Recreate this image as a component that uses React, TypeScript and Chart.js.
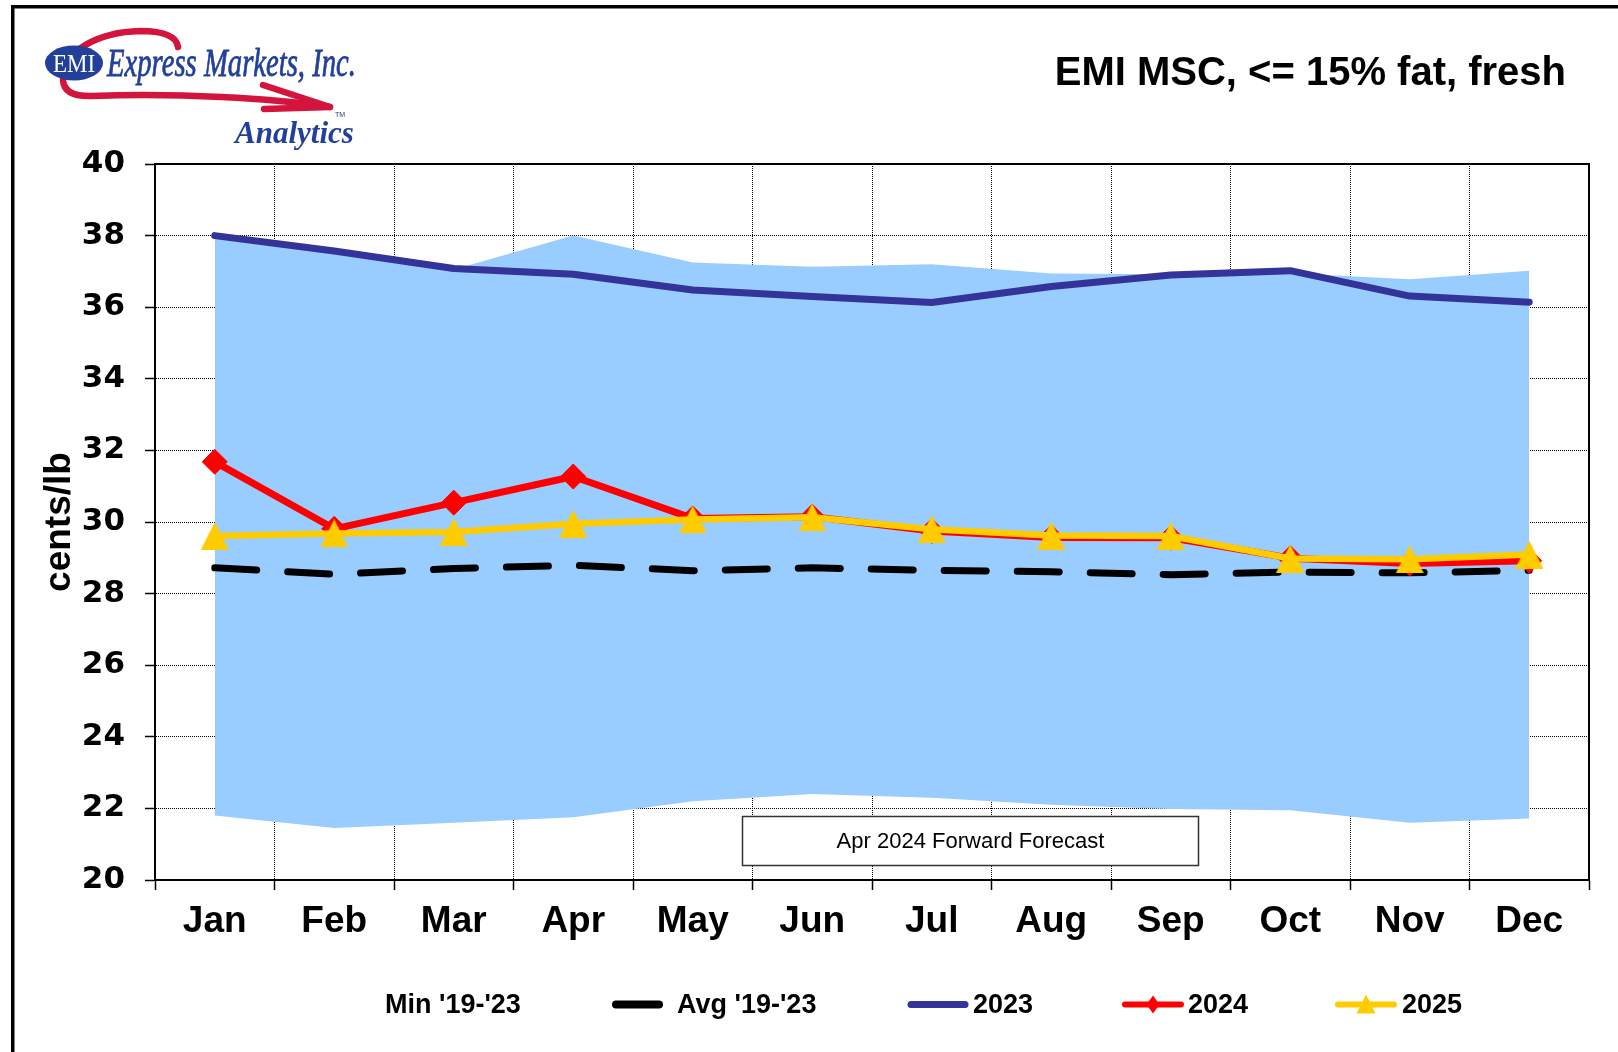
import React, { useEffect, useRef } from 'react';
import { Chart, registerables } from 'chart.js';

Chart.register(...registerables);

// ---------------- data ----------------
const months = ['Jan', 'Feb', 'Mar', 'Apr', 'May', 'Jun', 'Jul', 'Aug', 'Sep', 'Oct', 'Nov', 'Dec'];
const min1923 = [21.8, 21.45, 21.6, 21.75, 22.2, 22.4, 22.3, 22.1, 21.98, 21.95, 21.6, 21.72];
const max1923 = [38.0, 37.6, 37.05, 38.0, 37.25, 37.13, 37.2, 36.94, 36.92, 36.95, 36.78, 37.02];
const avg1923 = [28.72, 28.54, 28.7, 28.79, 28.64, 28.72, 28.65, 28.61, 28.53, 28.6, 28.58, 28.65];
const y2023 = [38.0, 37.57, 37.08, 36.92, 36.48, 36.3, 36.13, 36.58, 36.9, 37.02, 36.31, 36.14];
const y2024 = [31.68, 29.81, 30.54, 31.27, 30.1, 30.15, 29.75, 29.57, 29.56, 28.99, 28.84, 28.92];
const y2025 = [29.61, 29.68, 29.72, 29.95, 30.07, 30.13, 29.8, 29.62, 29.61, 28.98, 28.96, 29.09];
const seriesNames = ["Min '19-'23", "Max '19-'23", "Avg '19-'23", '2023', '2024', '2025'];
const yMin = 20;
const yMax = 40;
const yStep = 2;
const chartTitle = 'EMI MSC, <= 15% fat, fresh';
const yAxisTitle = 'cents/lb';
const forecastNote = 'Apr 2024 Forward Forecast';
const logoName = 'Express Markets, Inc.';
const logoBadge = 'EMI';
const logoSub = 'Analytics';

// ---------------- styles ----------------
const BAND = '#99CCFF';
const NAVY = '#333399';
const RED = '#FF0000';
const YELLOW = '#FFCC00';
const LOGO_BLUE = '#22409A';
const LOGO_RED = '#D3143D';
const SANS = '"Liberation Sans", Arial, sans-serif';
const SERIF = '"Liberation Serif", "Times New Roman", serif';

export default function App() {
  const ref = useRef<HTMLCanvasElement>(null);

  useEffect(() => {
    document.body.style.margin = '0';
    const canvas = ref.current as HTMLCanvasElement;

    const tri = document.createElement('canvas');
    tri.width = 28;
    tri.height = 28;
    const tc = tri.getContext('2d') as CanvasRenderingContext2D;
    tc.fillStyle = YELLOW;
    tc.beginPath();
    tc.moveTo(14, 0);
    tc.lineTo(28, 28);
    tc.lineTo(0, 28);
    tc.closePath();
    tc.fill();

    const legendLayout = [
      { name: seriesNames[0], kind: 'none', color: '#fff', x0: 0, x1: 0, tx: 385 },
      { name: seriesNames[2], kind: 'line', color: '#000', x0: 616, x1: 659, tx: 677, w: 8 },
      { name: seriesNames[3], kind: 'line', color: NAVY, x0: 911, x1: 965, tx: 973, w: 7 },
      { name: seriesNames[4], kind: 'diamond', color: RED, x0: 1125, x1: 1181, tx: 1188, w: 6 },
      { name: seriesNames[5], kind: 'triangle', color: YELLOW, x0: 1338, x1: 1394, tx: 1402, w: 6 },
    ];

    const decor = {
      id: 'decor',
      beforeDraw(chart: any) {
        const ctx = chart.ctx as CanvasRenderingContext2D;
        ctx.save();
        ctx.fillStyle = '#fff';
        ctx.fillRect(0, 0, chart.width, chart.height);
        ctx.restore();
      },
      afterDatasetsDraw(chart: any) {
        const ctx = chart.ctx as CanvasRenderingContext2D;
        const xs = chart.scales.x;
        const ys = chart.scales.y;
        const a = chart.chartArea;
        // forecast note box
        const bx0 = Math.round(xs.getPixelForValue(4.41)) + 0.5;
        const bx1 = Math.round(xs.getPixelForValue(8.23)) + 0.5;
        const by0 = Math.round(ys.getPixelForValue(21.78)) + 0.5;
        const by1 = Math.round(ys.getPixelForValue(20.42)) + 0.5;
        ctx.save();
        ctx.fillStyle = '#fff';
        ctx.fillRect(bx0, by0, bx1 - bx0, by1 - by0);
        ctx.strokeStyle = '#333';
        ctx.lineWidth = 1.5;
        ctx.strokeRect(bx0, by0, bx1 - bx0, by1 - by0);
        ctx.fillStyle = '#000';
        ctx.font = `22px ${SANS}`;
        ctx.textAlign = 'center';
        ctx.textBaseline = 'middle';
        ctx.fillText(forecastNote, (bx0 + bx1) / 2, (by0 + by1) / 2 + 1);
        // top and right plot border
        ctx.strokeStyle = '#000';
        ctx.lineWidth = 2;
        ctx.beginPath();
        ctx.moveTo(a.left, a.top);
        ctx.lineTo(a.right, a.top);
        ctx.lineTo(a.right, a.bottom);
        ctx.stroke();
        ctx.restore();
      },
      afterDraw(chart: any) {
        const ctx = chart.ctx as CanvasRenderingContext2D;
        ctx.save();
        // outer frame (top and left edges visible)
        ctx.fillStyle = '#000';
        ctx.fillRect(11, 5, chart.width - 11, 3.5);
        ctx.fillRect(11, 5, 3.5, chart.height - 5);

        // ---- logo ----
        ctx.strokeStyle = LOGO_RED;
        ctx.lineWidth = 6.5;
        ctx.lineCap = 'round';
        ctx.lineJoin = 'round';
        ctx.beginPath();
        ctx.moveTo(178, 47);
        ctx.quadraticCurveTo(176, 31, 140, 31);
        ctx.bezierCurveTo(100, 32, 62, 50, 63, 80);
        ctx.quadraticCurveTo(64, 97, 92, 96);
        ctx.bezierCurveTo(180, 93, 270, 98, 330, 107);
        ctx.stroke();
        ctx.beginPath();
        ctx.moveTo(263, 85);
        ctx.lineTo(330, 107);
        ctx.lineTo(264, 109);
        ctx.stroke();
        ctx.fillStyle = LOGO_BLUE;
        ctx.beginPath();
        ctx.ellipse(74, 63, 29, 17.5, 0, 0, Math.PI * 2);
        ctx.fill();
        ctx.fillStyle = '#fff';
        ctx.font = `25px ${SERIF}`;
        ctx.textAlign = 'center';
        ctx.textBaseline = 'alphabetic';
        ctx.save();
        ctx.translate(74, 72);
        ctx.scale(0.92, 1);
        ctx.fillText(logoBadge, 0, 0);
        ctx.restore();
        ctx.fillStyle = LOGO_BLUE;
        ctx.strokeStyle = LOGO_BLUE;
        ctx.lineWidth = 0.8;
        ctx.font = `italic 41px ${SERIF}`;
        ctx.textAlign = 'left';
        const nw = ctx.measureText(logoName).width;
        ctx.save();
        ctx.translate(107, 76);
        ctx.scale(249 / nw, 1);
        ctx.fillText(logoName, 0, 0);
        ctx.strokeText(logoName, 0, 0);
        ctx.restore();
        ctx.font = `bold italic 31px ${SERIF}`;
        ctx.fillText(logoSub, 235, 143);
        ctx.font = `7px ${SANS}`;
        ctx.fillText('TM', 335, 117);

        // ---- title ----
        ctx.fillStyle = '#000';
        ctx.font = `bold 40px ${SANS}`;
        ctx.textAlign = 'right';
        ctx.textBaseline = 'alphabetic';
        ctx.fillText(chartTitle, 1566, 85);

        // ---- legend ----
        const ly = 1004.5;
        ctx.font = `bold 27px ${SANS}`;
        ctx.textBaseline = 'middle';
        ctx.textAlign = 'left';
        legendLayout.forEach((it: any) => {
          if (it.kind !== 'none') {
            ctx.strokeStyle = it.color;
            ctx.lineWidth = it.w;
            ctx.lineCap = 'round';
            ctx.setLineDash([]);
            ctx.beginPath();
            ctx.moveTo(it.x0, ly);
            ctx.lineTo(it.x1, ly);
            ctx.stroke();
            const cx = (it.x0 + it.x1) / 2;
            ctx.fillStyle = it.color;
            if (it.kind === 'diamond') {
              ctx.beginPath();
              ctx.moveTo(cx, ly - 9);
              ctx.lineTo(cx + 6.5, ly);
              ctx.lineTo(cx, ly + 9);
              ctx.lineTo(cx - 6.5, ly);
              ctx.closePath();
              ctx.fill();
            } else if (it.kind === 'triangle') {
              ctx.beginPath();
              ctx.moveTo(cx, ly - 10);
              ctx.lineTo(cx + 9.5, ly + 9);
              ctx.lineTo(cx - 9.5, ly + 9);
              ctx.closePath();
              ctx.fill();
            }
          }
          ctx.fillStyle = '#000';
          ctx.fillText(it.name, it.tx, ly + 1);
        });
        ctx.restore();
      },
    };

    const chart = new Chart(canvas, {
      type: 'line',
      data: {
        labels: months,
        datasets: [
          {
            label: seriesNames[0],
            data: min1923,
            borderColor: 'rgba(0,0,0,0)',
            borderWidth: 0,
            pointRadius: 0,
            fill: false,
            order: 5,
          },
          {
            label: seriesNames[1],
            data: max1923,
            borderColor: 'rgba(0,0,0,0)',
            backgroundColor: BAND,
            borderWidth: 0,
            pointRadius: 0,
            fill: '-1',
            order: 4,
          },
          {
            label: seriesNames[2],
            data: avg1923,
            borderColor: '#000',
            borderWidth: 7,
            borderDash: [42, 31],
            borderCapStyle: 'round',
            pointRadius: 0,
            fill: false,
            order: 2,
          },
          {
            label: seriesNames[3],
            data: y2023,
            borderColor: NAVY,
            borderWidth: 7,
            borderCapStyle: 'round',
            borderJoinStyle: 'round',
            pointRadius: 0,
            fill: false,
            order: 3,
          },
          {
            label: seriesNames[4],
            data: y2024,
            borderColor: RED,
            borderWidth: 7,
            borderJoinStyle: 'round',
            pointStyle: 'rectRot',
            pointRadius: 12.5,
            pointBackgroundColor: RED,
            pointBorderColor: RED,
            pointBorderWidth: 1,
            fill: false,
            order: 1,
          },
          {
            label: seriesNames[5],
            data: y2025,
            borderColor: YELLOW,
            borderWidth: 6.5,
            borderJoinStyle: 'round',
            pointStyle: tri as any,
            pointRadius: 14,
            pointBackgroundColor: YELLOW,
            pointBorderColor: YELLOW,
            fill: false,
            order: 0,
          },
        ] as any,
      },
      options: {
        responsive: false,
        animation: false,
        events: [],
        layout: { padding: { left: 0, top: 164, right: 29, bottom: 92 } },
        plugins: {
          legend: { display: false },
          title: { display: false },
          tooltip: { enabled: false },
        },
        elements: { line: { tension: 0 } },
        scales: {
          x: {
            type: 'category',
            offset: true,
            grid: {
              offset: true,
              color: '#000',
              lineWidth: 1,
              tickLength: 10,
              tickColor: '#000',
              tickWidth: 1.5,
              tickBorderDash: [],
            } as any,
            border: { display: true, color: '#000', width: 2, dash: [1, 1] } as any,
            ticks: {
              color: '#000',
              font: { family: SANS, weight: 'bold', size: 37 },
              padding: 10,
              maxRotation: 0,
              autoSkip: false,
            },
            afterFit: (s: any) => {
              s.height = 80;
            },
          },
          y: {
            min: yMin,
            max: yMax,
            grid: {
              color: '#000',
              lineWidth: 1,
              tickLength: 10,
              tickColor: '#000',
              tickWidth: 1.5,
              tickBorderDash: [],
            } as any,
            border: { display: true, color: '#000', width: 2, dash: [1, 1] } as any,
            ticks: {
              stepSize: yStep,
              color: '#000',
              font: { family: '"DejaVu Sans", sans-serif', weight: 'bold', size: 31 },
              padding: 20,
            },
            title: {
              display: true,
              text: yAxisTitle,
              color: '#000',
              font: { family: SANS, weight: 'bold', size: 37 },
              padding: { top: 38, bottom: 0 },
            },
            afterFit: (s: any) => {
              s.width = 155;
            },
          },
        },
      },
      plugins: [decor],
    });

    return () => chart.destroy();
  }, []);

  return (
    <canvas
      ref={ref}
      width={1618}
      height={1052}
      style={{ display: 'block', position: 'absolute', left: 0, top: 0, width: 1618, height: 1052 }}
    />
  );
}
